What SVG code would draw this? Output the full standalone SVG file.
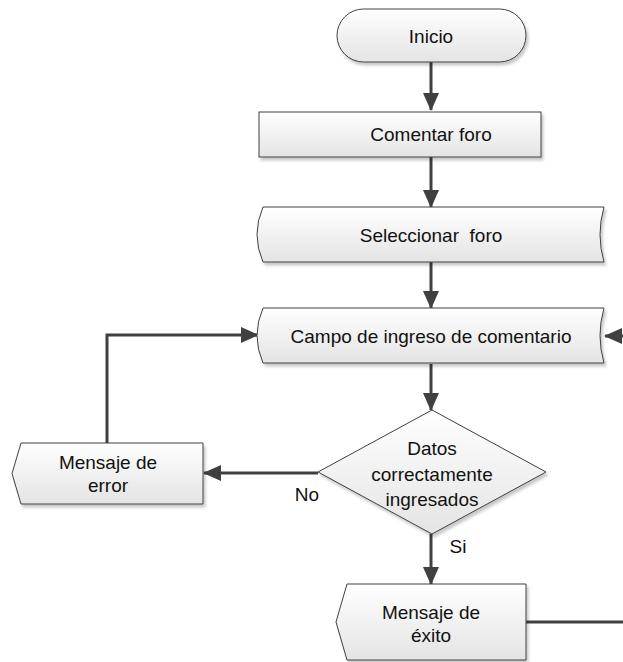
<svg xmlns="http://www.w3.org/2000/svg" width="623" height="662" viewBox="0 0 623 662">
<defs>
<linearGradient id="g" x1="0" y1="0" x2="0" y2="1"><stop offset="0" stop-color="#ffffff"/><stop offset="1" stop-color="#e4e4e4"/></linearGradient>
<filter id="sh" x="-10%" y="-20%" width="130%" height="150%"><feDropShadow dx="2" dy="3" stdDeviation="1.5" flood-color="#000" flood-opacity="0.22"/></filter>
<marker id="ah" markerUnits="userSpaceOnUse" markerWidth="18" markerHeight="18" viewBox="0 0 18 18" refX="17" refY="9" orient="auto"><path d="M0,1 L18,9 L0,17 Z" fill="#404040"/></marker>
</defs>
<style>
.s{fill:url(#g);stroke:#404040;stroke-width:1;filter:url(#sh)}
.t{font-family:"Liberation Sans",Arial,sans-serif;font-size:19px;fill:#111;text-anchor:middle;dominant-baseline:central}
.c{fill:none;stroke:#404040;stroke-width:3}
.a{marker-end:url(#ah)}
</style>
<rect width="623" height="662" fill="#fff"/>
<g id="connectors">
<line class="c a" x1="431" y1="62" x2="431" y2="110"/>
<line class="c a" x1="431" y1="157" x2="431" y2="207"/>
<line class="c a" x1="431" y1="262" x2="431" y2="308"/>
<line class="c a" x1="623" y1="336" x2="605" y2="336"/>
<polyline class="c a" points="107,443 107,335 258,335"/>
<line class="c a" x1="431" y1="364" x2="431" y2="410"/>
<line class="c a" x1="318" y1="473" x2="204" y2="473"/>
<line class="c a" x1="431" y1="534" x2="431" y2="584"/>
<line class="c" x1="526" y1="622" x2="623" y2="622"/>
<text class="t" x="307" y="494">No</text>
<text class="t" x="458" y="546">Si</text>
</g>
<g id="inicio">
<rect class="s" x="337" y="9" width="189" height="53" rx="26.5"/>
<text class="t" x="431" y="36">Inicio</text>
</g>
<g id="comentar">
<rect class="s" x="259" y="112" width="282" height="45"/>
<text class="t" x="431" y="134">Comentar foro</text>
</g>
<g id="seleccionar">
<path class="s" d="M263,207 H604 Q596,234.5 604,262 H263 Q251,234.5 263,207 Z"/>
<text class="t" x="431" y="235" xml:space="preserve">Seleccionar  foro</text>
</g>
<g id="campo">
<path class="s" d="M263,308 H604 Q596,335.5 604,363 H263 Q251,335.5 263,308 Z"/>
<text class="t" x="431" y="336">Campo de ingreso de comentario</text>
</g>
<g id="decision">
<path class="s" d="M432,410 L546,472 L432,534 L318,472 Z"/>
<text class="t" x="432" y="448">Datos</text>
<text class="t" x="432" y="474">correctamente</text>
<text class="t" x="432" y="499">ingresados</text>
</g>
<g id="error">
<path class="s" d="M21,443 H203 V504 H21 L12,473.5 Z"/>
<text class="t" x="108" y="462">Mensaje de</text>
<text class="t" x="108" y="485">error</text>
</g>
<g id="exito">
<path class="s" d="M347,584 H526 V660 H347 L336,622 Z"/>
<text class="t" x="431" y="612">Mensaje de</text>
<text class="t" x="431" y="635">éxito</text>
</g>
</svg>
